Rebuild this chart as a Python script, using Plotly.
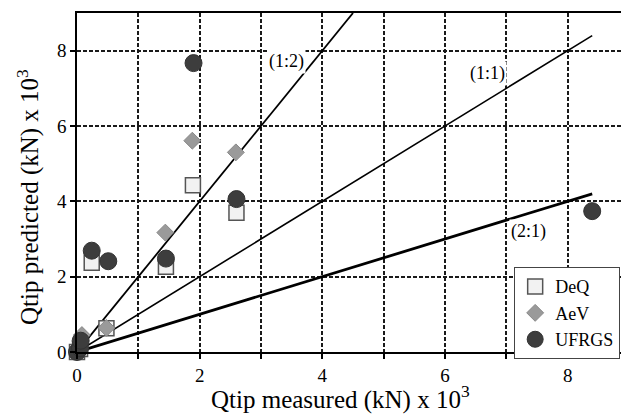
import plotly.graph_objects as go

# Data (kN x 10^3)
deq_x = [0.0, 0.05, 0.24, 0.48, 1.45, 1.89, 2.60]
deq_y = [0.0, 0.08, 2.37, 0.63, 2.26, 4.43, 3.70]

aev_x = [0.0, 0.08, 0.48, 1.44, 1.88, 2.59]
aev_y = [0.05, 0.45, 0.64, 3.17, 5.61, 5.30]

ufrgs_x = [0.0, 0.05, 0.06, 0.24, 0.51, 1.45, 1.90, 2.60, 8.40]
ufrgs_y = [0.0, 0.10, 0.30, 2.69, 2.41, 2.48, 7.67, 4.06, 3.74]

# Reference lines
line_12_x = [0, 4.5]
line_12_y = [0, 9.0]
line_11_x = [0, 8.4]
line_11_y = [0, 8.4]
line_21_x = [0, 8.4]
line_21_y = [0, 4.2]

line_labels = ["(1:2)", "(1:1)", "(2:1)"]
label_x = [3.41, 6.69, 7.36]
label_y = [7.70, 7.39, 3.20]

x_tickvals = [0, 1, 2, 3, 4, 5, 6, 7, 8]
x_ticktext = ["0", "", "2", "", "4", "", "6", "", "8"]
y_tickvals = [0, 2, 4, 6, 8]
y_ticktext = ["0", "2", "4", "6", "8"]

x_title = "Qtip measured (kN) x 10<sup>3</sup>"
y_title = "Qtip predicted (kN) x 10<sup>3</sup>"

FONT = "Liberation Serif"

fig = go.Figure()

fig.add_trace(go.Scatter(x=line_12_x, y=line_12_y, mode="lines",
                         line=dict(color="black", width=1.8), showlegend=False, hoverinfo="skip"))
fig.add_trace(go.Scatter(x=line_11_x, y=line_11_y, mode="lines",
                         line=dict(color="black", width=1.6), showlegend=False, hoverinfo="skip"))
fig.add_trace(go.Scatter(x=line_21_x, y=line_21_y, mode="lines",
                         line=dict(color="black", width=2.8), showlegend=False, hoverinfo="skip"))

fig.add_trace(go.Scatter(x=deq_x, y=deq_y, mode="markers", name="DeQ",
                         marker=dict(symbol="square", size=15, color="#f2f2f2",
                                     line=dict(color="#555555", width=1.5)),
                         cliponaxis=False))
fig.add_trace(go.Scatter(x=aev_x, y=aev_y, mode="markers", name="AeV",
                         marker=dict(symbol="diamond", size=13, color="#9a9a9a",
                                     line=dict(color="#888888", width=1)),
                         cliponaxis=False))
fig.add_trace(go.Scatter(x=ufrgs_x, y=ufrgs_y, mode="markers", name="UFRGS",
                         marker=dict(symbol="circle", size=17, color="#3d3d3d",
                                     line=dict(color="#333333", width=1)),
                         cliponaxis=False))

for t, lx, ly in zip(line_labels, label_x, label_y):
    fig.add_annotation(x=lx, y=ly, text=t, showarrow=False,
                       font=dict(family=FONT, size=18, color="black"),
                       bgcolor="white")

# Axis titles as annotations for precise placement
fig.add_annotation(xref="paper", yref="paper", x=0.7156, y=-0.133,
                   xanchor="right", yanchor="middle", showarrow=False,
                   text=x_title, font=dict(family=FONT, size=25, color="black"))
fig.add_annotation(xref="paper", yref="paper", x=-0.0888, y=0.457,
                   xanchor="center", yanchor="middle", showarrow=False, textangle=-90,
                   text=y_title, font=dict(family=FONT, size=25, color="black"))

# page body adds an 8px offset, so the figure is 8px smaller than the window
fig.update_layout(
    width=621, height=407,
    margin=dict(l=69, r=0, t=5, b=63, autoexpand=False),
    paper_bgcolor="white", plot_bgcolor="white",
    font=dict(family=FONT, color="black"),
    legend=dict(x=0.984, y=0.25, xanchor="right", yanchor="top",
                bgcolor="white", bordercolor="#444444", borderwidth=1,
                font=dict(family=FONT, size=18, color="black"),
                itemwidth=30, tracegroupgap=0),
)

fig.update_xaxes(range=[0, 9], tickvals=x_tickvals, ticktext=x_ticktext, automargin=False,
                 showgrid=True, gridcolor="#1a1a1a", gridwidth=1.5, griddash="4px,2px",
                 showline=True, linecolor="black", linewidth=1.5, mirror=True,
                 ticks="outside", ticklen=5, tickcolor="black", tickwidth=1.5,
                 tickfont=dict(family=FONT, size=19, color="black"),
                 zeroline=False)
fig.update_yaxes(range=[0, 9], tickvals=y_tickvals, ticktext=y_ticktext, automargin=False,
                 showgrid=True, gridcolor="#1a1a1a", gridwidth=1.5, griddash="4px,2px",
                 showline=True, linecolor="black", linewidth=1.5, mirror=True,
                 ticks="outside", ticklen=5, tickcolor="black", tickwidth=1.5,
                 tickfont=dict(family=FONT, size=19, color="black"),
                 zeroline=False)

fig.write_html("out.html")
